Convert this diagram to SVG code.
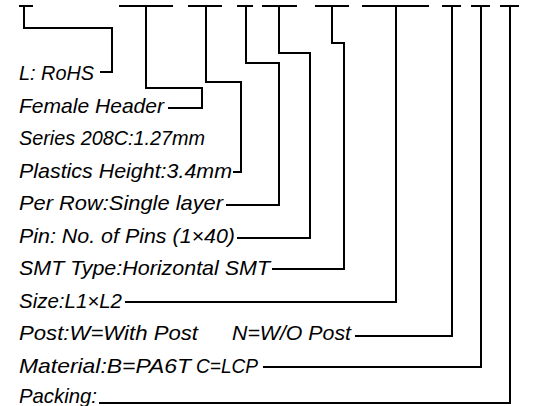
<svg xmlns="http://www.w3.org/2000/svg" width="541" height="406" viewBox="0 0 541 406">
<style>
.lbl{font-family:"Liberation Sans",Arial,sans-serif;font-style:italic;font-size:21px;fill:#000}
.c{fill:none;stroke:#000;stroke-width:2;stroke-linejoin:miter;stroke-linecap:butt}
</style>
<rect width="541" height="406" fill="#fff"/>
<g id="connectors">
<path class="c" d="M19,6H33M24,6V28H112V72H100"/>
<path class="c" d="M119,6H173M146,6V88H202V108H168"/>
<path class="c" d="M188,6H222M206,6V82H241V172H233"/>
<path class="c" d="M237,6H253M246,6V63H279V205H226"/>
<path class="c" d="M262,6H297M279,6V53H310V238H237"/>
<path class="c" d="M315,6H349M332,6V43H344V269H272"/>
<path class="c" d="M362,6H429M396,6V302H125"/>
<path class="c" d="M442,6H461M452,6V336H355"/>
<path class="c" d="M471,6H490M481,6V367H263"/>
<path class="c" d="M500,6H519M510,6V403H99"/>
</g>
<g id="n-rohs"><text class="lbl" x="19" y="80" textLength="75" lengthAdjust="spacingAndGlyphs">L: RoHS</text></g>
<g id="n-female"><text class="lbl" x="19" y="112.5" textLength="145" lengthAdjust="spacingAndGlyphs">Female Header</text></g>
<g id="n-series"><text class="lbl" x="19" y="145" textLength="186" lengthAdjust="spacingAndGlyphs">Series 208C:1.27mm</text></g>
<g id="n-height"><text class="lbl" x="19" y="177.5" textLength="213" lengthAdjust="spacingAndGlyphs">Plastics Height:3.4mm</text></g>
<g id="n-row"><text class="lbl" x="19" y="210" textLength="204" lengthAdjust="spacingAndGlyphs">Per Row:Single layer</text></g>
<g id="n-pin"><text class="lbl" x="19" y="242.5" textLength="216" lengthAdjust="spacingAndGlyphs">Pin: No. of Pins (1×40)</text></g>
<g id="n-smt"><text class="lbl" x="19" y="275" textLength="251" lengthAdjust="spacingAndGlyphs">SMT Type:Horizontal SMT</text></g>
<g id="n-size"><text class="lbl" x="19" y="307.5" textLength="103" lengthAdjust="spacingAndGlyphs">Size:L1×L2</text></g>
<g id="n-post"><text class="lbl" x="19" y="340" textLength="179" lengthAdjust="spacingAndGlyphs">Post:W=With Post</text><text class="lbl" x="232" y="340" textLength="119" lengthAdjust="spacingAndGlyphs">N=W/O Post</text></g>
<g id="n-material"><text class="lbl" x="19" y="372.5" textLength="172" lengthAdjust="spacingAndGlyphs">Material:B=PA6T</text><text class="lbl" x="196" y="372.5" textLength="62" lengthAdjust="spacingAndGlyphs">C=LCP</text></g>
<g id="n-packing"><text class="lbl" x="19" y="403" textLength="78" lengthAdjust="spacingAndGlyphs">Packing:</text></g>
</svg>
